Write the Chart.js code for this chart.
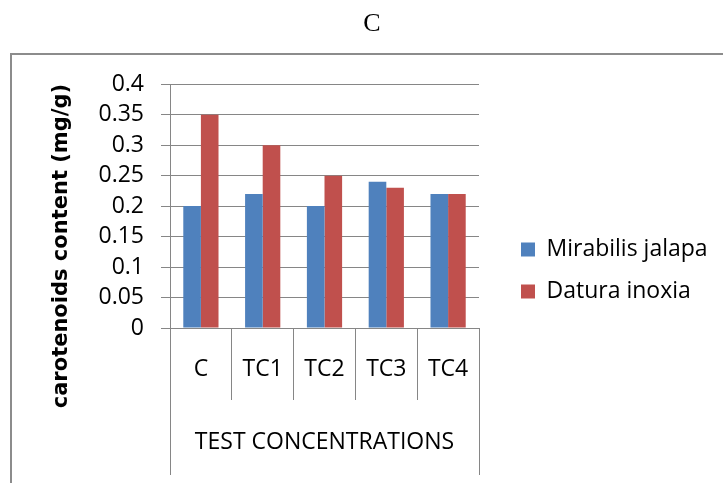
<!DOCTYPE html>
<html lang="en">
<head>
  <meta charset="UTF-8">
  <title>Carotenoids content - C</title>
  <script src="https://cdn.jsdelivr.net/npm/chart.js"></script>
  <style>
    body {
      margin: 0;
      padding: 0;
      background: #fff;
      overflow: hidden;
    }
    .wrap {
      position: relative;
      width: 723px;
      height: 483px;
      overflow: hidden;
    }
    .frame {
      position: absolute;
      left: 10px;
      top: 53px;
      width: 800px;
      height: 500px;
      border: 2px solid #8c8c8c;
    }
    canvas {
      position: absolute;
      left: 0;
      top: 0;
    }
  </style>
</head>
<body>
  <div class="wrap">
    <div class="frame"></div>
    <canvas id="chart" width="723" height="483"></canvas>
  </div>

  <script>
    const categories = ['C', 'TC1', 'TC2', 'TC3', 'TC4'];
    const mirabilis = [0.20, 0.22, 0.20, 0.24, 0.22];
    const datura = [0.35, 0.30, 0.25, 0.23, 0.22];
    const groupLabel = ['TEST CONCENTRATIONS'];
    const yTitle = 'carotenoids content (mg/g)';

    const FONT = '"Open Sans", sans-serif';
    const GRID = '#868686';

    // y axis title, centred on plot + category row like the excel original
    const yTitlePlugin = {
      id: 'yTitle',
      afterDraw(chart) {
        const ctx = chart.ctx;
        const y = chart.scales.y;
        const x = chart.scales.x;
        ctx.save();
        ctx.translate(y.left + 51, (chart.chartArea.top + x.bottom) / 2 + 4);
        ctx.rotate(-Math.PI / 2);
        ctx.font = 'bold 21px "DejaVu Sans", sans-serif';
        ctx.fillStyle = '#000';
        ctx.textAlign = 'center';
        ctx.textBaseline = 'middle';
        ctx.fillText(yTitle, 0, 0);
        ctx.restore();
      }
    };

    // legend: fixed width and nudged down to sit where excel put it
    const legendPlacePlugin = {
      id: 'legendPlace',
      beforeLayout(chart) {
        const lg = chart.legend;
        if (lg && !lg._patched) {
          const fit = lg.fit;
          lg.fit = function () { fit.call(this); this.width = 231; };
          lg._patched = true;
        }
      },
      afterLayout(chart) {
        const lg = chart.legend;
        lg.top += 33;
        lg.bottom += 33;
      }
    };

    new Chart(document.getElementById('chart'), {
      type: 'bar',
      data: {
        labels: categories,
        datasets: [
          { label: 'Mirabilis jalapa', data: mirabilis, backgroundColor: '#4F81BD' },
          { label: 'Datura inoxia', data: datura, backgroundColor: '#C0504D' }
        ]
      },
      options: {
        responsive: false,
        animation: false,
        layout: { padding: { left: 11, right: -10, top: 0, bottom: 8 } },
        datasets: {
          bar: { categoryPercentage: 0.57, barPercentage: 1.0 }
        },
        scales: {
          x: {
            position: 'bottom',
            offset: true,
            grid: { display: true, drawOnChartArea: false, offset: true, tickLength: 72, color: GRID },
            border: { display: true, color: GRID },
            ticks: { padding: -44, color: '#000', font: { family: FONT, size: 23 }, autoSkip: false, maxRotation: 0 },
            afterFit(s) { s.height = 72; }
          },
          x2: {
            type: 'category',
            position: 'bottom',
            weight: 1,
            labels: groupLabel,
            offset: true,
            grid: { display: true, drawOnChartArea: false, offset: true, tickLength: 75, color: GRID },
            border: { display: false },
            ticks: { padding: -46, color: '#000', font: { family: FONT, size: 23 }, maxRotation: 0 },
            afterFit(s) { s.height = 75; }
          },
          y: {
            min: 0,
            max: 0.4,
            grid: { color: GRID, tickLength: 9 },
            border: { display: true, color: GRID },
            ticks: {
              stepSize: 0.05,
              autoSkip: false,
              padding: 17,
              color: '#000',
              font: { family: FONT, size: 23 },
              callback: v => String(Number(v.toFixed(2)))
            },
            afterFit(s) { s.width = 159; }
          },
          gap: {
            position: 'right',
            display: true,
            grid: { display: false },
            border: { display: false },
            ticks: { display: false },
            afterFit(s) { s.width = 23; }
          }
        },
        plugins: {
          title: {
            display: true,
            text: 'C',
            color: '#000',
            font: { family: 'Liberation Serif, serif', size: 26, weight: 'normal' },
            padding: { top: 9, bottom: 44 }
          },
          legend: {
            position: 'right',
            align: 'center',
            labels: {
              boxWidth: 14,
              boxHeight: 14,
              padding: 19,
              color: '#000',
              font: { family: FONT, size: 23 }
            }
          },
          tooltip: { enabled: false }
        }
      },
      plugins: [yTitlePlugin, legendPlacePlugin]
    });
  </script>
</body>
</html>
